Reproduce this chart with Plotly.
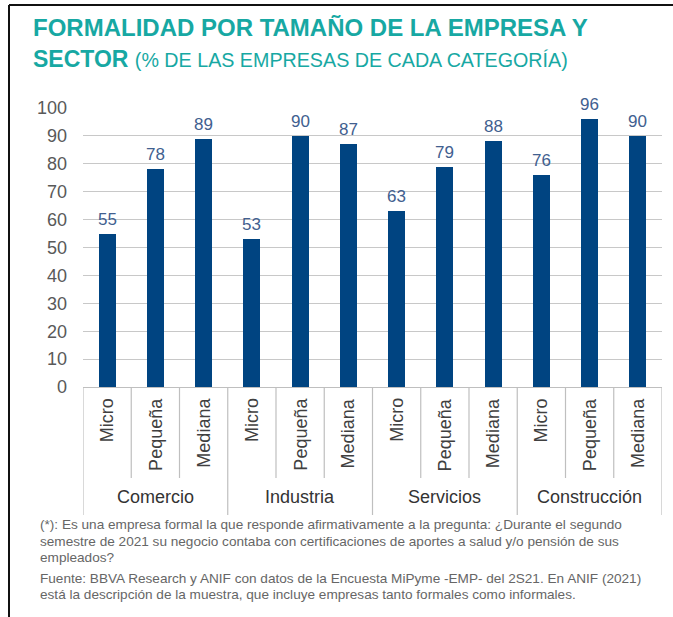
import plotly.graph_objects as go

# data
sectors = ["Comercio", "Industria", "Servicios", "Construcción"]
sizes = ["Micro", "Pequeña", "Mediana"]
values = [55, 78, 89,
          53, 90, 87,
          63, 79, 88,
          76, 96, 90]

W, H = 673, 617
L, R, T, B = 83, 11, 108, 230
plot_w = W - L - R
plot_h = H - T - B

def px_x(px):
    return (px - L) / plot_w

def px_y(py):
    return (H - B - py) / plot_h

FONT = "Liberation Sans, Arial, sans-serif"
TEAL = "#17A8A3"
NAVY = "#004481"

x_idx = list(range(len(values)))

fig = go.Figure()
fig.add_trace(go.Bar(
    x=x_idx,
    y=values,
    width=0.35,
    marker=dict(color=NAVY, line=dict(width=0)),
    hoverinfo="skip",
))

shapes = []
annotations = []

# value labels above the bars
for i, v in zip(x_idx, values):
    annotations.append(dict(
        x=i, y=v, xref="x", yref="y", text=str(v),
        showarrow=False, xanchor="center", yanchor="bottom", yshift=3,
        font=dict(size=17, color="#41608F", family=FONT),
    ))

# separators below the axis
n_sizes = len(sizes)
for i in range(len(values) + 1):
    is_group = i % n_sizes == 0
    shapes.append(dict(
        type="line", xref="x", yref="paper",
        x0=i - 0.5, x1=i - 0.5,
        y0=0, y1=px_y(515) if is_group else px_y(478),
        line=dict(color="#BFBFBF", width=1.2),
    ))

# inner labels (rotated)
for i in x_idx:
    annotations.append(dict(
        x=i, y=px_y(396), xref="x", yref="paper",
        text=sizes[i % n_sizes], textangle=-90,
        showarrow=False, xanchor="center", yanchor="top",
        font=dict(size=18, color="#404040", family=FONT),
    ))

# group labels
for g, name in enumerate(sectors):
    annotations.append(dict(
        x=g * n_sizes + (n_sizes - 1) / 2, y=px_y(497), xref="x", yref="paper",
        text=name, showarrow=False, xanchor="center", yanchor="middle",
        font=dict(size=18, color="#333333", family=FONT),
    ))

# title
annotations.append(dict(
    x=px_x(31), y=px_y(28), xref="paper", yref="paper",
    text="<b>FORMALIDAD POR TAMAÑO DE LA EMPRESA Y</b>",
    showarrow=False, xanchor="left", yanchor="middle",
    font=dict(size=24, color=TEAL, family=FONT),
))
annotations.append(dict(
    x=px_x(31), y=px_y(59), xref="paper", yref="paper",
    text="<b>SECTOR</b> <span style='font-size:19.7px'>(% DE LAS EMPRESAS DE CADA CATEGORÍA)</span>",
    showarrow=False, xanchor="left", yanchor="middle",
    font=dict(size=23, color=TEAL, family=FONT),
))

# footnotes
foot_lines = [
    "(*): Es una empresa formal la que responde afirmativamente a la pregunta: ¿Durante el segundo",
    "semestre de 2021 su negocio contaba con certificaciones de aportes a salud y/o pensión de sus",
    "empleados?",
    "Fuente: BBVA Research y ANIF con datos de la Encuesta MiPyme -EMP- del 2S21. En ANIF (2021)",
    "está la descripción de la muestra, que incluye empresas tanto formales como informales.",
]
foot_y = [524, 541, 557, 578, 594]
for line, fy in zip(foot_lines, foot_y):
    annotations.append(dict(
        x=px_x(38), y=px_y(fy), xref="paper", yref="paper", text=line,
        showarrow=False, xanchor="left", yanchor="middle", align="left",
        font=dict(size=13.6, color="#666666", family=FONT),
    ))

# frame
shapes.append(dict(type="line", xref="paper", yref="paper",
                   x0=px_x(9), x1=px_x(W + 5), y0=px_y(5), y1=px_y(5),
                   line=dict(color="#111111", width=2)))
shapes.append(dict(type="line", xref="paper", yref="paper",
                   x0=px_x(9), x1=px_x(9), y0=px_y(5), y1=px_y(H + 5),
                   line=dict(color="#111111", width=2)))

fig.update_layout(
    width=W, height=H,
    margin=dict(l=L, r=R, t=T, b=B),
    paper_bgcolor="white", plot_bgcolor="white",
    showlegend=False,
    bargap=0,
    font=dict(family=FONT),
    xaxis=dict(range=[-0.5, len(values) - 0.5], showticklabels=False,
               showgrid=False, zeroline=False, showline=False, fixedrange=True),
    yaxis=dict(range=[0, 100], dtick=10, showgrid=True, gridcolor="#C8C8C8",
               gridwidth=1.2, zeroline=True, zerolinecolor="#BFBFBF", zerolinewidth=1.2,
               tickfont=dict(size=18, color="#595959", family=FONT),
               ticklabelstandoff=15, fixedrange=True),
    shapes=shapes,
    annotations=annotations,
)

fig.write_html(
    "out.html",
    config={"displayModeBar": False},
    post_script="document.body.style.margin='0px';document.body.style.overflow='hidden';",
)
